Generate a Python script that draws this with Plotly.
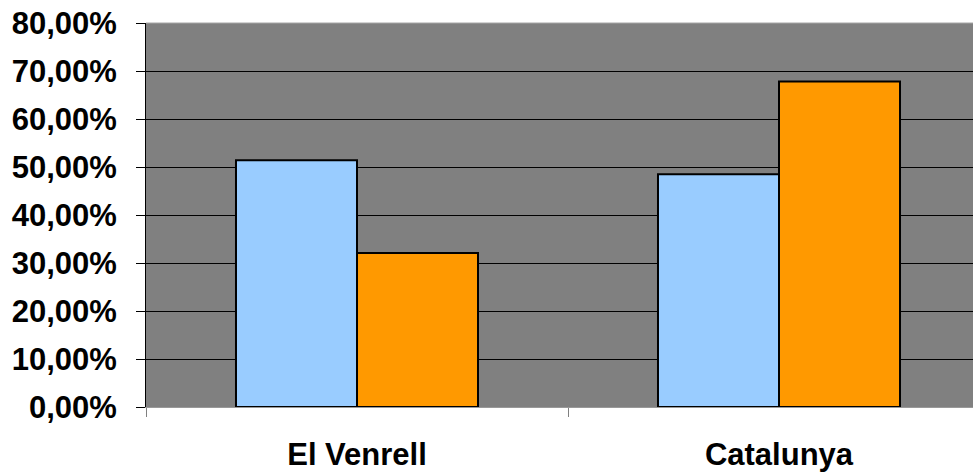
import plotly.graph_objects as go

categories = ["El Venrell", "Catalunya"]
serie_blau = [0.514, 0.485]
serie_taronja = [0.321, 0.678]
y_ticks = [0, 0.1, 0.2, 0.3, 0.4, 0.5, 0.6, 0.7, 0.8]

fig = go.Figure()
fig.add_trace(go.Bar(x=categories, y=serie_blau, marker=dict(color="#99CCFF", line=dict(color="black", width=2))))
fig.add_trace(go.Bar(x=categories, y=serie_taronja, marker=dict(color="#FF9900", line=dict(color="black", width=2))))

tf = dict(family="Liberation Sans, Arial, sans-serif", size=31, color="black", weight="bold")
fig.update_layout(
    width=973, height=473,
    margin=dict(l=146, r=0, t=23, b=66),
    paper_bgcolor="white", plot_bgcolor="#808080",
    barmode="group", bargap=0.4265, bargroupgap=0,
    showlegend=False,
    separators=",.",
)
fig.update_xaxes(
    range=[-0.5, -0.5 + (973 - 146) / 422],
    tickson="boundaries", ticks="outside", ticklen=9, tickcolor="#808080",
    showline=True, linecolor="#999999", linewidth=1,
    showgrid=False, zeroline=False,
    tickfont=tf,
    ticklabelstandoff=20,
)
fig.update_yaxes(
    range=[0, 0.8], tickvals=y_ticks, tickformat=".2%",
    ticks="outside", ticklen=9, tickcolor="black",
    showline=True, linecolor="black", linewidth=1,
    showgrid=True, gridcolor="black", gridwidth=1,
    zeroline=False,
    tickfont=tf,
    ticklabelstandoff=13,
)
fig.add_shape(type="line", xref="paper", yref="paper", x0=0, x1=1, y0=1, y1=1,
              line=dict(color="#a6a6a6", width=1), layer="above")
fig.write_html("out.html", config={"displayModeBar": False},
               post_script="document.body.style.margin='0';document.body.style.overflow='hidden';")
